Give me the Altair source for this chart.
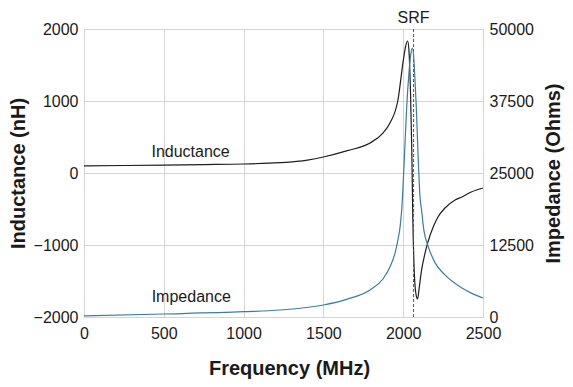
import altair as alt
import pandas as pd

# Inductance curve (nH) vs frequency (MHz)
freq_L = [0, 250, 500, 750, 1000, 1228, 1400, 1500, 1650, 1792, 1873, 1917, 1967,
          2001, 2015, 2028, 2036, 2046, 2054, 2060, 2068, 2078, 2090, 2100, 2115,
          2135, 2155, 2190, 2218, 2262, 2325, 2368, 2430, 2500]
inductance = [100, 104, 110, 117, 125, 143, 180, 222, 310, 417, 555, 694, 1014,
              1570, 1760, 1833, 1700, 1100, 300, -600, -1300, -1650, -1750, -1600, -1350,
              -1130, -958, -740, -611, -486, -375, -333, -260, -208]

# Impedance curve (Ohms) vs frequency (MHz)
freq_Z = [0, 500, 1000, 1228, 1500, 1650, 1792, 1873, 1917, 1948, 1967, 1982, 1994,
          2002, 2012, 2022, 2035, 2047, 2057, 2066, 2074, 2082, 2092, 2105, 2115,
          2130, 2155, 2200, 2262, 2368, 2430, 2500]
impedance = [200, 520, 920, 1215, 2080, 3100, 4690, 6600, 8680, 11000, 13400, 16000, 20000,
             24500, 30500, 36500, 42000, 45500, 46700, 45000, 41000, 36500, 29000, 21000, 18600,
             15000, 12400, 9400, 7300, 5030, 4100, 3300]

srf = 2065
x_ticks = [0, 500, 1000, 1500, 2000, 2500]
l_ticks = [-2000, -1000, 0, 1000, 2000]
z_ticks = [0, 12500, 25000, 37500, 50000]

labels = pd.DataFrame({"f": [668, 672], "v": [296, -1722], "t": ["Inductance", "Impedance"]})

dfL = pd.DataFrame({"f": freq_L, "L": inductance})
dfZ = pd.DataFrame({"f": freq_Z, "Z": impedance})

FONT = "Liberation Sans"
TXT = "#1a1a1a"
xscale = alt.Scale(domain=[0, 2500], nice=False)

xenc = alt.X("f:Q", scale=xscale,
             axis=alt.Axis(values=x_ticks, format="d", title="Frequency (MHz)",
                           titleX=205))

yL = alt.Y("L:Q", scale=alt.Scale(domain=[-2000, 2000], nice=False),
           axis=alt.Axis(values=l_ticks, format="d", title="Inductance (nH)",
                         orient="left", titlePadding=5))

left_line = alt.Chart(dfL).mark_line(color="#1e1e1e", strokeWidth=1.2,
                                     interpolate="monotone").encode(x=xenc, y=yL)

txt = alt.Chart(labels).mark_text(font=FONT, fontSize=16, color=TXT).encode(
    x=alt.X("f:Q", scale=xscale),
    y=alt.Y("v:Q", scale=alt.Scale(domain=[-2000, 2000], nice=False)),
    text="t:N")

srf_df = pd.DataFrame({"f": [srf], "t": ["SRF"]})
srf_rule = alt.Chart(srf_df).mark_rule(color="#555555", strokeWidth=1,
                                       strokeDash=[3, 2]).encode(
    x=alt.X("f:Q", scale=xscale),
    y=alt.value(0), y2=alt.value(288))
srf_text = alt.Chart(srf_df).mark_text(font=FONT, fontSize=16, color=TXT,
                                       baseline="alphabetic").encode(
    x=alt.X("f:Q", scale=xscale),
    y=alt.value(-6), text="t:N")

left = alt.layer(left_line, txt, srf_rule, srf_text)

right_line = alt.Chart(dfZ).mark_line(color="#3b7d9c", strokeWidth=1.2,
                                      interpolate="monotone").encode(
    x=alt.X("f:Q", scale=xscale),
    y=alt.Y("Z:Q", scale=alt.Scale(domain=[0, 50000], nice=False),
            axis=alt.Axis(values=z_ticks, format="d", title="Impedance (Ohms)",
                          orient="right", grid=False, titleAngle=270,
                          titleBaseline="top", titlePadding=10)))

chart = alt.layer(left, right_line).resolve_scale(y="independent").properties(
    width=399, height=288,
    autosize=alt.AutoSizeParams(type="none"),
    padding={"left": 76, "top": 21, "right": 82, "bottom": 62},
).configure_view(stroke="#c8c8c8", strokeWidth=1).configure_axis(
    labelFont=FONT, labelFontSize=16, labelColor=TXT, labelPadding=6,
    labelFlush=False,
    titleFont=FONT, titleFontSize=20, titleFontWeight="bold", titleColor=TXT,
    ticks=False, domain=False, gridColor="#d4d4d4", gridWidth=1,
).configure_axisX(titlePadding=17, labelPadding=8)

chart.save("out.html", embed_options={"renderer": "svg", "actions": False})
